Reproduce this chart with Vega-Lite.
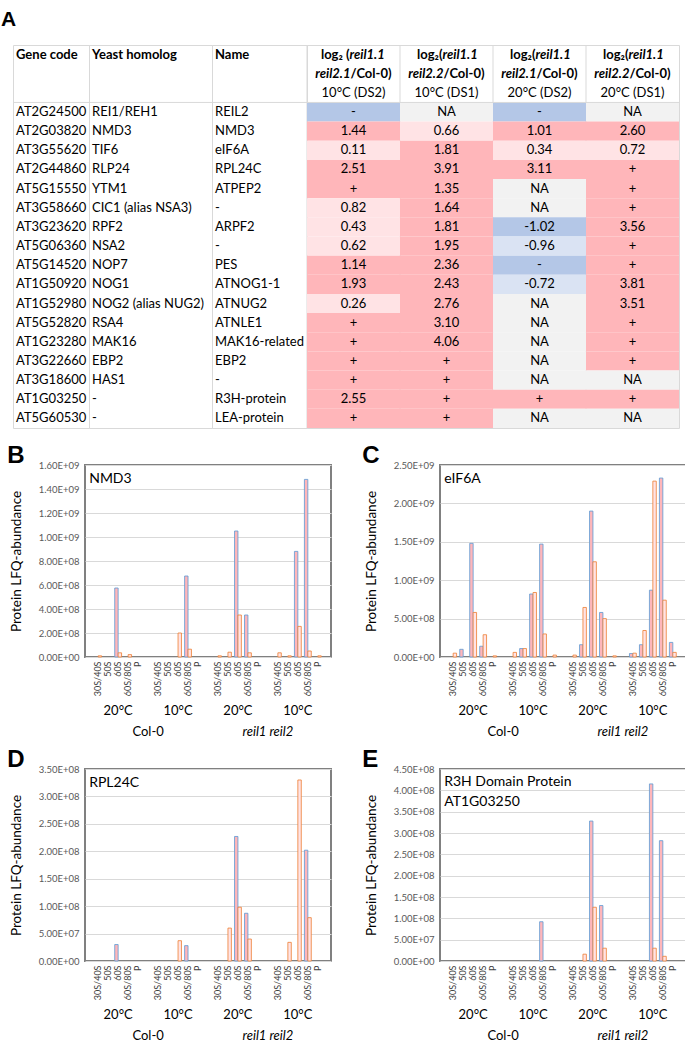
{
  "$schema": "https://vega.github.io/schema/vega-lite/v6.json",
  "padding": {"left": 1, "top": 9, "right": 0, "bottom": 0},
  "background": "white",
  "title": {"text": "A", "anchor": "start", "frame": "bounds", "font": "Liberation Sans", "fontSize": 21, "fontWeight": "bold", "color": "black", "offset": 14, "dx": -4},
  "datasets": {
    "genes": [
      {"r": 1, "gene": "AT2G24500", "yeast": "REI1/REH1", "name": "REIL2", "a": "-", "b": "NA", "c": "-", "d": "NA"},
      {"r": 2, "gene": "AT2G03820", "yeast": "NMD3", "name": "NMD3", "a": "1.44", "b": "0.66", "c": "1.01", "d": "2.60"},
      {"r": 3, "gene": "AT3G55620", "yeast": "TIF6", "name": "eIF6A", "a": "0.11", "b": "1.81", "c": "0.34", "d": "0.72"},
      {"r": 4, "gene": "AT2G44860", "yeast": "RLP24", "name": "RPL24C", "a": "2.51", "b": "3.91", "c": "3.11", "d": "+"},
      {"r": 5, "gene": "AT5G15550", "yeast": "YTM1", "name": "ATPEP2", "a": "+", "b": "1.35", "c": "NA", "d": "+"},
      {"r": 6, "gene": "AT3G58660", "yeast": "CIC1 (alias NSA3)", "name": "-", "a": "0.82", "b": "1.64", "c": "NA", "d": "+"},
      {"r": 7, "gene": "AT3G23620", "yeast": "RPF2", "name": "ARPF2", "a": "0.43", "b": "1.81", "c": "-1.02", "d": "3.56"},
      {"r": 8, "gene": "AT5G06360", "yeast": "NSA2", "name": "-", "a": "0.62", "b": "1.95", "c": "-0.96", "d": "+"},
      {"r": 9, "gene": "AT5G14520", "yeast": "NOP7", "name": "PES", "a": "1.14", "b": "2.36", "c": "-", "d": "+"},
      {"r": 10, "gene": "AT1G50920", "yeast": "NOG1", "name": "ATNOG1-1", "a": "1.93", "b": "2.43", "c": "-0.72", "d": "3.81"},
      {"r": 11, "gene": "AT1G52980", "yeast": "NOG2 (alias NUG2)", "name": "ATNUG2", "a": "0.26", "b": "2.76", "c": "NA", "d": "3.51"},
      {"r": 12, "gene": "AT5G52820", "yeast": "RSA4", "name": "ATNLE1", "a": "+", "b": "3.10", "c": "NA", "d": "+"},
      {"r": 13, "gene": "AT1G23280", "yeast": "MAK16", "name": "MAK16-related", "a": "+", "b": "4.06", "c": "NA", "d": "+"},
      {"r": 14, "gene": "AT3G22660", "yeast": "EBP2", "name": "EBP2", "a": "+", "b": "+", "c": "NA", "d": "+"},
      {"r": 15, "gene": "AT3G18600", "yeast": "HAS1", "name": "-", "a": "+", "b": "+", "c": "NA", "d": "NA"},
      {"r": 16, "gene": "AT1G03250", "yeast": "-", "name": "R3H-protein", "a": "2.55", "b": "+", "c": "+", "d": "+"},
      {"r": 17, "gene": "AT5G60530", "yeast": "-", "name": "LEA-protein", "a": "+", "b": "+", "c": "NA", "d": "NA"}
    ],
    "hdrl": [
      {"col": "a", "r": "h1", "k": "L1", "t": "log₂ ("},
      {"col": "a", "r": "h1", "k": "R1", "t": "reil1.1"},
      {"col": "a", "r": "h2", "k": "L2", "t": "reil2.1"},
      {"col": "a", "r": "h2", "k": "R2", "t": " /Col-0)"},
      {"col": "a", "r": "h3", "k": "C3", "t": "10°C (DS2)"},
      {"col": "b", "r": "h1", "k": "L1", "t": "log₂("},
      {"col": "b", "r": "h1", "k": "R1", "t": "reil1.1"},
      {"col": "b", "r": "h2", "k": "L2", "t": "reil2.2"},
      {"col": "b", "r": "h2", "k": "R2", "t": " /Col-0)"},
      {"col": "b", "r": "h3", "k": "C3", "t": "10°C (DS1)"},
      {"col": "c", "r": "h1", "k": "L1", "t": "log₂("},
      {"col": "c", "r": "h1", "k": "R1", "t": "reil1.1"},
      {"col": "c", "r": "h2", "k": "L2", "t": "reil2.1"},
      {"col": "c", "r": "h2", "k": "R2", "t": " /Col-0)"},
      {"col": "c", "r": "h3", "k": "C3", "t": "20°C (DS2)"},
      {"col": "d", "r": "h1", "k": "L1", "t": "log₂("},
      {"col": "d", "r": "h1", "k": "R1", "t": "reil1.1"},
      {"col": "d", "r": "h2", "k": "L2", "t": "reil2.2"},
      {"col": "d", "r": "h2", "k": "R2", "t": " /Col-0)"},
      {"col": "d", "r": "h3", "k": "C3", "t": "20°C (DS1)"}
    ],
    "cols": [{"col": "a"}, {"col": "b"}, {"col": "c"}, {"col": "d"}],
    "hline": [{"r": 1}],
    "grp": [{"c": "1|60S", "t": "20°C"}, {"c": "2|60S", "t": "10°C"}, {"c": "3|60S", "t": "20°C"}, {"c": "4|60S", "t": "10°C"}],
    "bars": [
      {"p": "NMD3", "c": "1|30S/40S", "s": "b", "v": 1.0e7},
      {"p": "NMD3", "c": "1|60S", "s": "a", "v": 5.75e8},
      {"p": "NMD3", "c": "1|60S", "s": "b", "v": 3.5e7},
      {"p": "NMD3", "c": "1|60S/80S", "s": "b", "v": 2.0e7},
      {"p": "NMD3", "c": "2|60S", "s": "b", "v": 2.0e8},
      {"p": "NMD3", "c": "2|60S/80S", "s": "a", "v": 6.75e8},
      {"p": "NMD3", "c": "2|60S/80S", "s": "b", "v": 6.5e7},
      {"p": "NMD3", "c": "3|30S/40S", "s": "b", "v": 1.0e7},
      {"p": "NMD3", "c": "3|50S", "s": "b", "v": 4.0e7},
      {"p": "NMD3", "c": "3|60S", "s": "a", "v": 1.05e9},
      {"p": "NMD3", "c": "3|60S", "s": "b", "v": 3.5e8},
      {"p": "NMD3", "c": "3|60S/80S", "s": "a", "v": 3.5e8},
      {"p": "NMD3", "c": "3|60S/80S", "s": "b", "v": 3.5e7},
      {"p": "NMD3", "c": "4|30S/40S", "s": "b", "v": 3.5e7},
      {"p": "NMD3", "c": "4|50S", "s": "b", "v": 1.0e7},
      {"p": "NMD3", "c": "4|60S", "s": "a", "v": 8.8e8},
      {"p": "NMD3", "c": "4|60S", "s": "b", "v": 2.55e8},
      {"p": "NMD3", "c": "4|60S/80S", "s": "a", "v": 1.48e9},
      {"p": "NMD3", "c": "4|60S/80S", "s": "b", "v": 5.0e7},
      {"p": "NMD3", "c": "4|P", "s": "b", "v": 1.0e7},
      {"p": "eIF6A", "c": "1|30S/40S", "s": "b", "v": 5.0e7},
      {"p": "eIF6A", "c": "1|50S", "s": "a", "v": 1.0e8},
      {"p": "eIF6A", "c": "1|60S", "s": "a", "v": 1.48e9},
      {"p": "eIF6A", "c": "1|60S", "s": "b", "v": 5.8e8},
      {"p": "eIF6A", "c": "1|60S/80S", "s": "a", "v": 1.4e8},
      {"p": "eIF6A", "c": "1|60S/80S", "s": "b", "v": 2.9e8},
      {"p": "eIF6A", "c": "1|P", "s": "b", "v": 1.5e7},
      {"p": "eIF6A", "c": "2|30S/40S", "s": "b", "v": 6.0e7},
      {"p": "eIF6A", "c": "2|50S", "s": "a", "v": 1.1e8},
      {"p": "eIF6A", "c": "2|50S", "s": "b", "v": 1.1e8},
      {"p": "eIF6A", "c": "2|60S", "s": "a", "v": 8.2e8},
      {"p": "eIF6A", "c": "2|60S", "s": "b", "v": 8.4e8},
      {"p": "eIF6A", "c": "2|60S/80S", "s": "a", "v": 1.47e9},
      {"p": "eIF6A", "c": "2|60S/80S", "s": "b", "v": 3.0e8},
      {"p": "eIF6A", "c": "2|P", "s": "b", "v": 2.5e7},
      {"p": "eIF6A", "c": "3|30S/40S", "s": "b", "v": 2.5e7},
      {"p": "eIF6A", "c": "3|50S", "s": "a", "v": 1.6e8},
      {"p": "eIF6A", "c": "3|50S", "s": "b", "v": 6.45e8},
      {"p": "eIF6A", "c": "3|60S", "s": "a", "v": 1.9e9},
      {"p": "eIF6A", "c": "3|60S", "s": "b", "v": 1.24e9},
      {"p": "eIF6A", "c": "3|60S/80S", "s": "a", "v": 5.8e8},
      {"p": "eIF6A", "c": "3|60S/80S", "s": "b", "v": 5.0e8},
      {"p": "eIF6A", "c": "3|P", "s": "b", "v": 1.5e7},
      {"p": "eIF6A", "c": "4|30S/40S", "s": "a", "v": 4.5e7},
      {"p": "eIF6A", "c": "4|30S/40S", "s": "b", "v": 5.0e7},
      {"p": "eIF6A", "c": "4|50S", "s": "a", "v": 1.6e8},
      {"p": "eIF6A", "c": "4|50S", "s": "b", "v": 3.45e8},
      {"p": "eIF6A", "c": "4|60S", "s": "a", "v": 8.7e8},
      {"p": "eIF6A", "c": "4|60S", "s": "b", "v": 2.29e9},
      {"p": "eIF6A", "c": "4|60S/80S", "s": "a", "v": 2.33e9},
      {"p": "eIF6A", "c": "4|60S/80S", "s": "b", "v": 7.4e8},
      {"p": "eIF6A", "c": "4|P", "s": "a", "v": 1.9e8},
      {"p": "eIF6A", "c": "4|P", "s": "b", "v": 6.0e7},
      {"p": "RPL24C", "c": "1|60S", "s": "a", "v": 3.0e7},
      {"p": "RPL24C", "c": "2|60S", "s": "b", "v": 3.7e7},
      {"p": "RPL24C", "c": "2|60S/80S", "s": "a", "v": 2.8e7},
      {"p": "RPL24C", "c": "3|50S", "s": "b", "v": 6.0e7},
      {"p": "RPL24C", "c": "3|60S", "s": "a", "v": 2.27e8},
      {"p": "RPL24C", "c": "3|60S", "s": "b", "v": 9.8e7},
      {"p": "RPL24C", "c": "3|60S/80S", "s": "a", "v": 8.7e7},
      {"p": "RPL24C", "c": "3|60S/80S", "s": "b", "v": 4.0e7},
      {"p": "RPL24C", "c": "4|50S", "s": "b", "v": 3.4e7},
      {"p": "RPL24C", "c": "4|60S", "s": "b", "v": 3.3e8},
      {"p": "RPL24C", "c": "4|60S/80S", "s": "a", "v": 2.02e8},
      {"p": "RPL24C", "c": "4|60S/80S", "s": "b", "v": 7.9e7},
      {"p": "R3H", "c": "2|60S/80S", "s": "a", "v": 9.2e7},
      {"p": "R3H", "c": "3|50S", "s": "b", "v": 1.6e7},
      {"p": "R3H", "c": "3|60S", "s": "a", "v": 3.28e8},
      {"p": "R3H", "c": "3|60S", "s": "b", "v": 1.26e8},
      {"p": "R3H", "c": "3|60S/80S", "s": "a", "v": 1.3e8},
      {"p": "R3H", "c": "3|60S/80S", "s": "b", "v": 3.0e7},
      {"p": "R3H", "c": "4|60S", "s": "a", "v": 4.15e8},
      {"p": "R3H", "c": "4|60S", "s": "b", "v": 3.0e7},
      {"p": "R3H", "c": "4|60S/80S", "s": "a", "v": 2.82e8},
      {"p": "R3H", "c": "4|60S/80S", "s": "b", "v": 1.1e7}
    ]
  },
  "spacing": 7,
  "vconcat": [
    {
      "title": {"text": "\u00a0", "orient": "bottom", "anchor": "start", "frame": "bounds", "fontSize": 7, "offset": 0, "dx": -7},
      "spacing": 0,
      "bounds": "flush",
      "hconcat": [
        {"width": 76, "height": 383,
         "encoding": {"y": {"field": "r", "type": "ordinal", "scale": {"type": "band", "domain": ["h1","h2","h3",1,2,3,4,5,6,7,8,9,10,11,12,13,14,15,16,17], "paddingInner": 0, "paddingOuter": 0}, "axis": null}},
         "layer": [
           {"data": {"name": "hline"}, "mark": {"type": "rule", "color": "#d9d9d9"}, "encoding": {"y": {"field": "r", "type": "ordinal", "bandPosition": 0, "axis": null}}},
           {"data": {"values": [{"r": "h1", "t": "Gene code"}]}, "mark": {"type": "text", "align": "left", "baseline": "middle", "dx": 3, "fontSize": 13, "fontWeight": "bold"},
            "encoding": {"x": {"datum": 0, "type": "quantitative", "scale": {"domain": [0, 1]}, "axis": null}, "text": {"field": "t"}}},
           {"data": {"name": "genes"}, "mark": {"type": "text", "align": "left", "baseline": "middle", "dx": 3, "fontSize": 13},
            "encoding": {"x": {"datum": 0, "type": "quantitative", "scale": {"domain": [0, 1]}, "axis": null}, "text": {"field": "gene"}}}
         ],
         "view": {"stroke": "#d9d9d9"}},
        {"width": 123, "height": 383,
         "encoding": {"y": {"field": "r", "type": "ordinal", "scale": {"type": "band", "domain": ["h1","h2","h3",1,2,3,4,5,6,7,8,9,10,11,12,13,14,15,16,17], "paddingInner": 0, "paddingOuter": 0}, "axis": null}},
         "layer": [
           {"data": {"name": "hline"}, "mark": {"type": "rule", "color": "#d9d9d9"}, "encoding": {"y": {"field": "r", "type": "ordinal", "bandPosition": 0, "axis": null}}},
           {"data": {"values": [{"r": "h1", "t": "Yeast homolog"}]}, "mark": {"type": "text", "align": "left", "baseline": "middle", "dx": 3, "fontSize": 13, "fontWeight": "bold"},
            "encoding": {"x": {"datum": 0, "type": "quantitative", "scale": {"domain": [0, 1]}, "axis": null}, "text": {"field": "t"}}},
           {"data": {"name": "genes"}, "mark": {"type": "text", "align": "left", "baseline": "middle", "dx": 3, "fontSize": 13},
            "encoding": {"x": {"datum": 0, "type": "quantitative", "scale": {"domain": [0, 1]}, "axis": null}, "text": {"field": "yeast"}}}
         ],
         "view": {"stroke": "#d9d9d9"}},
        {"width": 95, "height": 383,
         "encoding": {"y": {"field": "r", "type": "ordinal", "scale": {"type": "band", "domain": ["h1","h2","h3",1,2,3,4,5,6,7,8,9,10,11,12,13,14,15,16,17], "paddingInner": 0, "paddingOuter": 0}, "axis": null}},
         "layer": [
           {"data": {"name": "hline"}, "mark": {"type": "rule", "color": "#d9d9d9"}, "encoding": {"y": {"field": "r", "type": "ordinal", "bandPosition": 0, "axis": null}}},
           {"data": {"values": [{"r": "h1", "t": "Name"}]}, "mark": {"type": "text", "align": "left", "baseline": "middle", "dx": 3, "fontSize": 13, "fontWeight": "bold"},
            "encoding": {"x": {"datum": 0, "type": "quantitative", "scale": {"domain": [0, 1]}, "axis": null}, "text": {"field": "t"}}},
           {"data": {"name": "genes"}, "mark": {"type": "text", "align": "left", "baseline": "middle", "dx": 3, "fontSize": 13},
            "encoding": {"x": {"datum": 0, "type": "quantitative", "scale": {"domain": [0, 1]}, "axis": null}, "text": {"field": "name"}}}
         ],
         "view": {"stroke": "#d9d9d9"}},
        {"width": 372, "height": 383,
         "encoding": {
           "y": {"field": "r", "type": "ordinal", "scale": {"type": "band", "domain": ["h1","h2","h3",1,2,3,4,5,6,7,8,9,10,11,12,13,14,15,16,17], "paddingInner": 0, "paddingOuter": 0}, "axis": null}
         },
         "layer": [
           {"data": {"name": "cols"}, "mark": {"type": "rule", "color": "#d9d9d9"},
            "encoding": {"x": {"field": "col", "type": "nominal", "bandPosition": 0, "scale": {"type": "band", "domain": ["a", "b", "c", "d"], "paddingInner": 0, "paddingOuter": 0}, "axis": null}, "y": null}},
           {"data": {"name": "genes"},
            "transform": [
              {"fold": ["a", "b", "c", "d"], "as": ["col", "val"]},
              {"calculate": "datum.val == 'NA' ? 'na' : datum.val == '+' ? 'up' : datum.val == '-' ? 'down' : toNumber(datum.val) >= 1 ? 'up' : toNumber(datum.val) > 0 ? 'uplight' : toNumber(datum.val) <= -1 ? 'down' : 'downlight'", "as": "cls"}
            ],
            "layer": [
              {"mark": {"type": "rect"},
               "encoding": {"x": {"field": "col", "type": "nominal", "axis": null},
                            "fill": {"field": "cls", "type": "nominal", "scale": {"domain": ["up", "uplight", "down", "downlight", "na"], "range": ["#ffb6ba", "#ffe3e5", "#b4c7e7", "#dae3f3", "#f2f2f2"]}, "legend": null}}},
              {"mark": {"type": "text", "align": "center", "baseline": "middle", "fontSize": 13, "color": "black"},
               "encoding": {"x": {"field": "col", "type": "nominal", "axis": null}, "text": {"field": "val"}}}
            ]},
           {"data": {"name": "hline"}, "mark": {"type": "rule", "color": "#d9d9d9"}, "encoding": {"y": {"field": "r", "type": "ordinal", "bandPosition": 0, "axis": null}}},
           {"data": {"name": "hdrl"}, "transform": [{"filter": "datum.k == 'L1'"}],
            "mark": {"type": "text", "align": "right", "baseline": "middle", "fontSize": 13, "fontWeight": "bold", "dx": -4},
            "encoding": {"x": {"field": "col", "type": "nominal", "axis": null}, "text": {"field": "t"}}},
           {"data": {"name": "hdrl"}, "transform": [{"filter": "datum.k == 'R1'"}],
            "mark": {"type": "text", "align": "left", "baseline": "middle", "fontSize": 13, "fontWeight": "bold", "fontStyle": "italic", "dx": -4},
            "encoding": {"x": {"field": "col", "type": "nominal", "axis": null}, "text": {"field": "t"}}},
           {"data": {"name": "hdrl"}, "transform": [{"filter": "datum.k == 'L2'"}],
            "mark": {"type": "text", "align": "right", "baseline": "middle", "fontSize": 13, "fontWeight": "bold", "fontStyle": "italic", "dx": -3},
            "encoding": {"x": {"field": "col", "type": "nominal", "axis": null}, "text": {"field": "t"}}},
           {"data": {"name": "hdrl"}, "transform": [{"filter": "datum.k == 'R2'"}],
            "mark": {"type": "text", "align": "left", "baseline": "middle", "fontSize": 13, "fontWeight": "bold", "dx": -3},
            "encoding": {"x": {"field": "col", "type": "nominal", "axis": null}, "text": {"field": "t"}}},
           {"data": {"name": "hdrl"}, "transform": [{"filter": "datum.k == 'C3'"}],
            "mark": {"type": "text", "align": "center", "baseline": "middle", "fontSize": 13},
            "encoding": {"x": {"field": "col", "type": "nominal", "axis": null}, "text": {"field": "t"}}}
         ],
         "view": {"stroke": "#d9d9d9"}}
      ]
    },
    {
      "spacing": -8,
      "hconcat": [
        {"width": 1, "height": 192, "data": {"values": []}, "mark": "point"},
        {
          "spacing": 29,
          "hconcat": [
            {
              "width": 246, "height": 192,
              "view": {"stroke": "#808080", "strokeWidth": 2},
              "title": {"text": "B", "anchor": "start", "frame": "bounds", "font": "Liberation Sans", "fontSize": 24, "fontWeight": "bold", "color": "black", "offset": -8, "dx": -2},
              "encoding": {
                "x": {"field": "c", "type": "nominal", "sort": null,
                      "scale": {"domain": ["1|30S/40S","1|50S","1|60S","1|60S/80S","1|P","g1","2|30S/40S","2|50S","2|60S","2|60S/80S","2|P","g2","3|30S/40S","3|50S","3|60S","3|60S/80S","3|P","g3","4|30S/40S","4|50S","4|60S","4|60S/80S","4|P"], "paddingInner": 0, "paddingOuter": 0.82},
                      "axis": {"title": null, "labelAngle": -90, "labelExpr": "indexof(datum.label,'|') > 0 ? split(datum.label,'|')[1] : ''", "ticks": false, "domain": false, "grid": false, "labelFontSize": 9, "labelColor": "#404040", "labelPadding": 4}}
              },
              "layer": [
                {"data": {"name": "bars"}, "transform": [{"filter": "datum.p == 'NMD3'"}],
                 "mark": {"type": "bar", "strokeWidth": 0.8},
                 "encoding": {
                   "xOffset": {"field": "s", "type": "nominal", "scale": {"domain": ["a", "b"], "paddingInner": 0, "paddingOuter": 0.46}},
                   "y": {"field": "v", "type": "quantitative", "scale": {"domain": [0, 1.6e9], "nice": false},
                         "axis": {"title": "Protein LFQ-abundance", "values": [0, 2e8, 4e8, 6e8, 8e8, 1e9, 1.2e9, 1.4e9, 1.6e9], "labelExpr": "replace(format(datum.value,'.2e'),'e+','E+0')", "labelOverlap": false, "grid": true, "gridColor": "#d9d9d9", "ticks": false, "domain": false, "labelFontSize": 9.5, "labelColor": "#595959", "labelPadding": 6, "titleFontSize": 13.5, "titleFontWeight": "normal", "titleColor": "black", "titlePadding": 15}},
                   "fill": {"field": "s", "type": "nominal", "scale": {"domain": ["a", "b"], "range": ["#9dc3e6", "#f4b183"]}, "legend": null},
                   "stroke": {"field": "s", "type": "nominal", "scale": {"domain": ["a", "b"], "range": ["#5b9bd5", "#ed7d31"]}, "legend": null}
                 }},
                {"data": {"name": "grp"}, "mark": {"type": "text", "baseline": "middle", "dy": 150, "fontSize": 13},
                 "encoding": {"text": {"field": "t"}}},
                {"data": {"values": [{"c": "g1", "t": "Col-0"}]}, "mark": {"type": "text", "baseline": "middle", "dy": 171, "fontSize": 13},
                 "encoding": {"text": {"field": "t"}}},
                {"data": {"values": [{"c": "g3", "t": "reil1  reil2"}]}, "mark": {"type": "text", "baseline": "middle", "dy": 171, "fontSize": 13, "fontStyle": "italic"},
                 "encoding": {"text": {"field": "t"}}},
                {"data": {"values": [{"t": "NMD3"}]}, "mark": {"type": "text", "align": "left", "baseline": "top", "dx": -4, "dy": -89, "fontSize": 14},
                 "encoding": {"x": {"datum": "1|30S/40S", "type": "nominal", "bandPosition": 0}, "text": {"field": "t"}}}
              ]
            },
            {
              "width": 246, "height": 192,
              "view": {"stroke": "#808080", "strokeWidth": 2},
              "title": {"text": "C", "anchor": "start", "frame": "bounds", "font": "Liberation Sans", "fontSize": 24, "fontWeight": "bold", "color": "black", "offset": -8, "dx": -2},
              "encoding": {
                "x": {"field": "c", "type": "nominal", "sort": null,
                      "scale": {"domain": ["1|30S/40S","1|50S","1|60S","1|60S/80S","1|P","g1","2|30S/40S","2|50S","2|60S","2|60S/80S","2|P","g2","3|30S/40S","3|50S","3|60S","3|60S/80S","3|P","g3","4|30S/40S","4|50S","4|60S","4|60S/80S","4|P"], "paddingInner": 0, "paddingOuter": 0.82},
                      "axis": {"title": null, "labelAngle": -90, "labelExpr": "indexof(datum.label,'|') > 0 ? split(datum.label,'|')[1] : ''", "ticks": false, "domain": false, "grid": false, "labelFontSize": 9, "labelColor": "#404040", "labelPadding": 4}}
              },
              "layer": [
                {"data": {"name": "bars"}, "transform": [{"filter": "datum.p == 'eIF6A'"}],
                 "mark": {"type": "bar", "strokeWidth": 0.8},
                 "encoding": {
                   "xOffset": {"field": "s", "type": "nominal", "scale": {"domain": ["a", "b"], "paddingInner": 0, "paddingOuter": 0.46}},
                   "y": {"field": "v", "type": "quantitative", "scale": {"domain": [0, 2.5e9], "nice": false},
                         "axis": {"title": "Protein LFQ-abundance", "values": [0, 5e8, 1e9, 1.5e9, 2e9, 2.5e9], "labelExpr": "replace(format(datum.value,'.2e'),'e+','E+0')", "labelOverlap": false, "grid": true, "gridColor": "#d9d9d9", "ticks": false, "domain": false, "labelFontSize": 9.5, "labelColor": "#595959", "labelPadding": 6, "titleFontSize": 13.5, "titleFontWeight": "normal", "titleColor": "black", "titlePadding": 15}},
                   "fill": {"field": "s", "type": "nominal", "scale": {"domain": ["a", "b"], "range": ["#9dc3e6", "#f4b183"]}, "legend": null},
                   "stroke": {"field": "s", "type": "nominal", "scale": {"domain": ["a", "b"], "range": ["#5b9bd5", "#ed7d31"]}, "legend": null}
                 }},
                {"data": {"name": "grp"}, "mark": {"type": "text", "baseline": "middle", "dy": 150, "fontSize": 13},
                 "encoding": {"text": {"field": "t"}}},
                {"data": {"values": [{"c": "g1", "t": "Col-0"}]}, "mark": {"type": "text", "baseline": "middle", "dy": 171, "fontSize": 13},
                 "encoding": {"text": {"field": "t"}}},
                {"data": {"values": [{"c": "g3", "t": "reil1  reil2"}]}, "mark": {"type": "text", "baseline": "middle", "dy": 171, "fontSize": 13, "fontStyle": "italic"},
                 "encoding": {"text": {"field": "t"}}},
                {"data": {"values": [{"t": "eIF6A"}]}, "mark": {"type": "text", "align": "left", "baseline": "top", "dx": -4, "dy": -89, "fontSize": 14},
                 "encoding": {"x": {"datum": "1|30S/40S", "type": "nominal", "bandPosition": 0}, "text": {"field": "t"}}}
              ]
            }
          ]
        }
      ]
    },
    {
      "spacing": -8,
      "hconcat": [
        {"width": 1, "height": 192, "data": {"values": []}, "mark": "point"},
        {
          "spacing": 29,
          "hconcat": [
            {
              "width": 246, "height": 192,
              "view": {"stroke": "#808080", "strokeWidth": 2},
              "title": {"text": "D", "anchor": "start", "frame": "bounds", "font": "Liberation Sans", "fontSize": 24, "fontWeight": "bold", "color": "black", "offset": -8, "dx": -2},
              "encoding": {
                "x": {"field": "c", "type": "nominal", "sort": null,
                      "scale": {"domain": ["1|30S/40S","1|50S","1|60S","1|60S/80S","1|P","g1","2|30S/40S","2|50S","2|60S","2|60S/80S","2|P","g2","3|30S/40S","3|50S","3|60S","3|60S/80S","3|P","g3","4|30S/40S","4|50S","4|60S","4|60S/80S","4|P"], "paddingInner": 0, "paddingOuter": 0.82},
                      "axis": {"title": null, "labelAngle": -90, "labelExpr": "indexof(datum.label,'|') > 0 ? split(datum.label,'|')[1] : ''", "ticks": false, "domain": false, "grid": false, "labelFontSize": 9, "labelColor": "#404040", "labelPadding": 4}}
              },
              "layer": [
                {"data": {"name": "bars"}, "transform": [{"filter": "datum.p == 'RPL24C'"}],
                 "mark": {"type": "bar", "strokeWidth": 0.8},
                 "encoding": {
                   "xOffset": {"field": "s", "type": "nominal", "scale": {"domain": ["a", "b"], "paddingInner": 0, "paddingOuter": 0.46}},
                   "y": {"field": "v", "type": "quantitative", "scale": {"domain": [0, 3.5e8], "nice": false},
                         "axis": {"title": "Protein LFQ-abundance", "values": [0, 5e7, 1e8, 1.5e8, 2e8, 2.5e8, 3e8, 3.5e8], "labelExpr": "replace(format(datum.value,'.2e'),'e+','E+0')", "labelOverlap": false, "grid": true, "gridColor": "#d9d9d9", "ticks": false, "domain": false, "labelFontSize": 9.5, "labelColor": "#595959", "labelPadding": 6, "titleFontSize": 13.5, "titleFontWeight": "normal", "titleColor": "black", "titlePadding": 15}},
                   "fill": {"field": "s", "type": "nominal", "scale": {"domain": ["a", "b"], "range": ["#9dc3e6", "#f4b183"]}, "legend": null},
                   "stroke": {"field": "s", "type": "nominal", "scale": {"domain": ["a", "b"], "range": ["#5b9bd5", "#ed7d31"]}, "legend": null}
                 }},
                {"data": {"name": "grp"}, "mark": {"type": "text", "baseline": "middle", "dy": 150, "fontSize": 13},
                 "encoding": {"text": {"field": "t"}}},
                {"data": {"values": [{"c": "g1", "t": "Col-0"}]}, "mark": {"type": "text", "baseline": "middle", "dy": 171, "fontSize": 13},
                 "encoding": {"text": {"field": "t"}}},
                {"data": {"values": [{"c": "g3", "t": "reil1  reil2"}]}, "mark": {"type": "text", "baseline": "middle", "dy": 171, "fontSize": 13, "fontStyle": "italic"},
                 "encoding": {"text": {"field": "t"}}},
                {"data": {"values": [{"t": "RPL24C"}]}, "mark": {"type": "text", "align": "left", "baseline": "top", "dx": -4, "dy": -89, "fontSize": 14},
                 "encoding": {"x": {"datum": "1|30S/40S", "type": "nominal", "bandPosition": 0}, "text": {"field": "t"}}}
              ]
            },
            {
              "width": 246, "height": 192,
              "view": {"stroke": "#808080", "strokeWidth": 2},
              "title": {"text": "E", "anchor": "start", "frame": "bounds", "font": "Liberation Sans", "fontSize": 24, "fontWeight": "bold", "color": "black", "offset": -8, "dx": -2},
              "encoding": {
                "x": {"field": "c", "type": "nominal", "sort": null,
                      "scale": {"domain": ["1|30S/40S","1|50S","1|60S","1|60S/80S","1|P","g1","2|30S/40S","2|50S","2|60S","2|60S/80S","2|P","g2","3|30S/40S","3|50S","3|60S","3|60S/80S","3|P","g3","4|30S/40S","4|50S","4|60S","4|60S/80S","4|P"], "paddingInner": 0, "paddingOuter": 0.82},
                      "axis": {"title": null, "labelAngle": -90, "labelExpr": "indexof(datum.label,'|') > 0 ? split(datum.label,'|')[1] : ''", "ticks": false, "domain": false, "grid": false, "labelFontSize": 9, "labelColor": "#404040", "labelPadding": 4}}
              },
              "layer": [
                {"data": {"name": "bars"}, "transform": [{"filter": "datum.p == 'R3H'"}],
                 "mark": {"type": "bar", "strokeWidth": 0.8},
                 "encoding": {
                   "xOffset": {"field": "s", "type": "nominal", "scale": {"domain": ["a", "b"], "paddingInner": 0, "paddingOuter": 0.46}},
                   "y": {"field": "v", "type": "quantitative", "scale": {"domain": [0, 4.5e8], "nice": false},
                         "axis": {"title": "Protein LFQ-abundance", "values": [0, 5e7, 1e8, 1.5e8, 2e8, 2.5e8, 3e8, 3.5e8, 4e8, 4.5e8], "labelExpr": "replace(format(datum.value,'.2e'),'e+','E+0')", "labelOverlap": false, "grid": true, "gridColor": "#d9d9d9", "ticks": false, "domain": false, "labelFontSize": 9.5, "labelColor": "#595959", "labelPadding": 6, "titleFontSize": 13.5, "titleFontWeight": "normal", "titleColor": "black", "titlePadding": 15}},
                   "fill": {"field": "s", "type": "nominal", "scale": {"domain": ["a", "b"], "range": ["#9dc3e6", "#f4b183"]}, "legend": null},
                   "stroke": {"field": "s", "type": "nominal", "scale": {"domain": ["a", "b"], "range": ["#5b9bd5", "#ed7d31"]}, "legend": null}
                 }},
                {"data": {"name": "grp"}, "mark": {"type": "text", "baseline": "middle", "dy": 150, "fontSize": 13},
                 "encoding": {"text": {"field": "t"}}},
                {"data": {"values": [{"c": "g1", "t": "Col-0"}]}, "mark": {"type": "text", "baseline": "middle", "dy": 171, "fontSize": 13},
                 "encoding": {"text": {"field": "t"}}},
                {"data": {"values": [{"c": "g3", "t": "reil1  reil2"}]}, "mark": {"type": "text", "baseline": "middle", "dy": 171, "fontSize": 13, "fontStyle": "italic"},
                 "encoding": {"text": {"field": "t"}}},
                {"data": {"values": [{"t": ["R3H Domain Protein", "AT1G03250"]}]}, "mark": {"type": "text", "align": "left", "baseline": "top", "dx": -4, "dy": -90, "fontSize": 14, "lineHeight": 20},
                 "encoding": {"x": {"datum": "1|30S/40S", "type": "nominal", "bandPosition": 0}, "text": {"field": "t"}}}
              ]
            }
          ]
        }
      ]
    }
  ],
  "config": {
    "font": "Lato",
    "view": {"stroke": null},
    "text": {"font": "Lato", "color": "black"},
    "axis": {"labelFont": "Lato", "titleFont": "Lato"}
  }
}
